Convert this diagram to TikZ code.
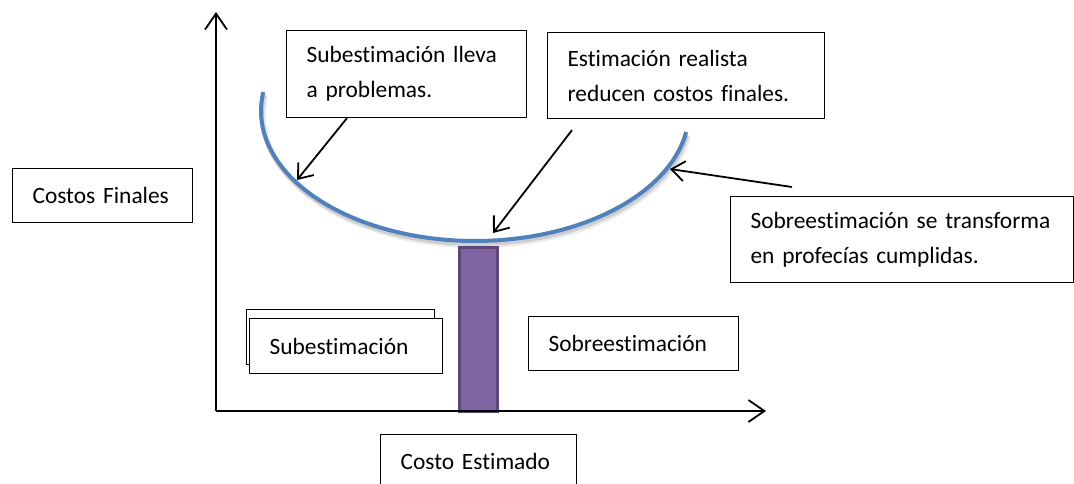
\documentclass[tikz,border=0pt]{standalone}
\usepackage{fontspec}
\setmainfont{Carlito}[Ligatures=NoCommon]
\usetikzlibrary{arrows.meta}
\definecolor{curvaazul}{HTML}{4F81BD}
\definecolor{barralila}{HTML}{8064A2}
\definecolor{bordelila}{HTML}{5C4878}
\begin{document}
\begin{tikzpicture}[x=1pt, y=-1pt]
  % Define styles
  \tikzstyle{caja}=[rectangle, draw=black, line width=1.1pt, fill=white, anchor=north west, inner xsep=20pt, inner ysep=0pt, align=left, font=\fontsize{23.4}{35}\selectfont]
  \tikzstyle{eje}=[line width=1.8pt, -{Straight Barb[length=16pt, width=22pt]}]
  \tikzstyle{flecha}=[line width=1.8pt, -{Straight Barb[length=13pt, width=20pt]}]

  \clip (0,0) rectangle (1074,483);
  \fill[white] (0,0) rectangle (1074,483);

  % Curve
  \draw[line width=6pt, black, opacity=0.08, shift={(2,4)}] plot[domain=9.3:188.4, samples=80] ({475+214*cos(\x)}, {111+130*sin(\x)});
  \draw[line width=4pt, black, opacity=0.12, shift={(1,3)}] plot[domain=9.3:188.4, samples=80] ({475+214*cos(\x)}, {111+130*sin(\x)});
  \draw[line width=4pt, curvaazul] plot[domain=9.3:188.4, samples=80] ({475+214*cos(\x)}, {111+130*sin(\x)});

  % Bar
  \draw[line width=3pt, draw=bordelila, fill=barralila] (459,247) rectangle (497,411);

  % Axes
  \coordinate (origen) at (216,411);
  \coordinate (ytop) at (216,12);
  \coordinate (xend) at (766,411);
  \draw[eje] (origen) -- (ytop);
  \draw[eje] (origen) -- (xend);

  % Boxes
  \node[caja, text width=140pt, minimum height=54pt] (finales) at (12,168) {Costos Finales};
  \node[caja, text width=200pt, minimum height=87pt] (sub) at (286,30) {Subestimación lleva\\a problemas.};
  \node[caja, text width=237pt, minimum height=86pt] (real) at (547,32) {Estimación realista\\reducen costos finales.};
  \node[caja, text width=303pt, minimum height=86pt] (sobre) at (730,196) {Sobreestimación se transforma\\en profecías cumplidas.};
  \node[caja, text width=148pt, minimum height=55pt] (subatras) at (246,309) {};
  \node[caja, text width=153pt, minimum height=55pt] (subest) at (249,318) {Subestimación};
  \node[caja, text width=170pt, minimum height=54pt] (sobreest) at (528,316) {Sobreestimación};
  \node[caja, text width=156pt, minimum height=54pt] (estimado) at (380,434) {Costo Estimado};

  % Pointers
  \coordinate (pSub) at (297,180);
  \coordinate (pReal) at (493,233);
  \coordinate (pSobre) at (670,169);
  \draw[flecha] ([xshift=61pt]sub.south west) -- (pSub);
  \draw[flecha] ([xshift=25pt, yshift=-11pt]real.south west) -- (pReal);
  \draw[flecha] ([xshift=62pt, yshift=9pt]sobre.north west) -- (pSobre);
\end{tikzpicture}
\end{document}
